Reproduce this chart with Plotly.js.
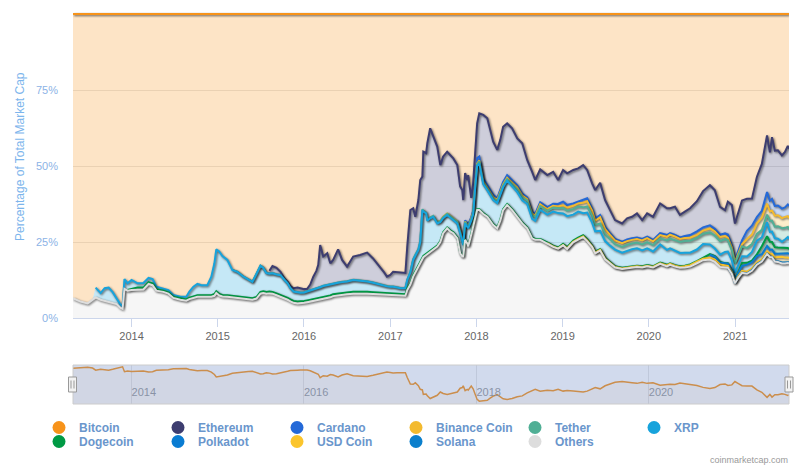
<!DOCTYPE html>
<html>
<head>
<meta charset="utf-8">
<script src="https://cdn.plot.ly/plotly-3.0.1.min.js"></script>
<style>
  html, body { margin: 0; padding: 0; background: #ffffff; }
  #chart { width: 800px; height: 468px; }
  .subplot.xy .scatterlayer .js-line { filter: drop-shadow(1px 1px 1.2px rgba(0,0,0,0.6)); }
</style>
</head>
<body>
<div id="chart"></div>
<script>
const dates = [
 '2013-04-28','2013-05-30','2013-06-29','2013-07-20','2013-08-02','2013-08-23','2013-09-09','2013-09-26','2013-10-13','2013-10-30',
 '2013-11-15','2013-11-24','2013-12-02','2013-12-15','2014-01-01','2014-01-26','2014-02-20','2014-03-14','2014-03-31','2014-04-16',
 '2014-05-16','2014-06-06','2014-06-27','2014-07-27','2014-08-21','2014-09-03','2014-09-20','2014-10-07','2014-10-24','2014-11-18',
 '2014-12-05','2014-12-18','2014-12-26','2015-01-08','2015-01-21','2015-02-11','2015-03-04','2015-03-25','2015-04-20','2015-05-11',
 '2015-05-28','2015-06-14','2015-07-01','2015-07-13','2015-07-26','2015-08-08','2015-08-21','2015-09-07','2015-09-24','2015-10-11',
 '2015-10-24','2015-11-05','2015-11-18','2015-12-05','2015-12-17','2016-01-02','2016-01-15','2016-01-28','2016-02-10','2016-02-23',
 '2016-03-02','2016-03-10','2016-03-23','2016-04-09','2016-04-22','2016-05-04','2016-05-25','2016-06-11','2016-07-02','2016-07-28',
 '2016-08-26','2016-09-25','2016-10-20','2016-11-06','2016-11-19','2016-12-06','2016-12-18','2017-01-01','2017-01-13','2017-01-30',
 '2017-02-12','2017-03-06','2017-03-14','2017-03-27','2017-04-08','2017-04-17','2017-04-30','2017-05-08','2017-05-17','2017-05-21',
 '2017-06-02','2017-06-07','2017-06-19','2017-07-02','2017-07-19','2017-08-01','2017-08-13','2017-08-30','2017-09-12','2017-09-25',
 '2017-10-12','2017-10-24','2017-11-02','2017-11-06','2017-11-14','2017-11-23','2017-11-27','2017-12-10','2017-12-18','2017-12-27',
 '2018-01-04','2018-01-13','2018-01-30','2018-02-16','2018-02-28','2018-03-13','2018-03-30','2018-04-12','2018-04-24','2018-05-11',
 '2018-06-01','2018-06-23','2018-07-14','2018-08-04','2018-08-25','2018-09-07','2018-09-28','2018-10-28','2018-11-22','2018-12-13',
 '2019-01-03','2019-01-20','2019-02-15','2019-03-08','2019-03-29','2019-04-15','2019-05-06','2019-05-19','2019-06-09','2019-06-30',
 '2019-07-21','2019-08-11','2019-09-10','2019-10-01','2019-10-22','2019-11-12','2019-12-04','2019-12-25','2020-01-19','2020-02-18',
 '2020-03-18','2020-03-31','2020-04-21','2020-05-12','2020-06-02','2020-06-24','2020-07-23','2020-08-18','2020-09-16','2020-10-07',
 '2020-10-29','2020-11-19','2020-12-01','2020-12-18','2020-12-31','2021-01-13','2021-01-30','2021-02-20','2021-03-13','2021-04-03',
 '2021-04-24','2021-05-16','2021-05-28','2021-06-06','2021-06-18','2021-07-01','2021-07-18','2021-07-31','2021-08-12','2021-08-17'
];

const _ = null;
const N10 = [_,_,_,_,_,_,_,_,_,_];

const bitcoin = [
 93.5,94.6,95.2,93.8,90.0,91.8,90.2,90.0,91.5,93.5,
 95.6,96.2,87.2,88.6,87.5,88.6,88.5,86.8,87.2,89.7,
 90.2,90.8,92.4,93.0,93.0,91.3,89.7,88.8,89.2,89.2,
 86.4,82.0,77.4,78.2,79.6,80.9,84.2,84.8,86.4,87.5,
 88.1,85.5,82.8,83.5,85.2,84.5,82.9,83.5,84.8,87.0,
 88.0,89.5,90.2,90.0,90.2,90.5,90.4,89.0,86.4,84.5,
 82.5,76.0,79.8,78.7,82.0,80.9,77.4,80.9,83.1,79.8,
 79.3,78.5,80.4,82.0,83.1,85.0,86.4,85.8,84.8,85.0,
 85.1,85.2,76.5,64.5,63.9,66.7,61.2,54.6,53.5,45.3,
 45.8,42.5,37.6,40.3,43.6,49.7,46.9,45.3,46.5,47.5,
 49.7,56.7,57.9,61.2,52.3,54.6,53.0,60.5,55.6,45.0,
 36.0,32.7,33.2,34.3,38.2,42.0,44.7,41.4,37.1,36.0,
 37.6,40.9,42.5,48.0,51.9,54.6,51.1,53.0,51.9,54.6,
 51.3,52.4,51.3,50.8,49.7,51.3,55.7,57.9,55.5,61.2,
 64.5,67.8,68.9,67.2,66.7,65.6,67.8,65.6,66.7,62.3,
 63.9,63.9,63.4,66.1,65.0,63.9,61.5,58.2,56.2,57.9,
 63.4,64.5,61.7,62.8,68.9,65.6,61.2,60.6,60.6,53.5,
 49.1,39.8,45.3,40.3,44.7,44.7,46.4,45.3,43.1,44.0
];

const ethereum = [
 ...N10,...N10,...N10,...N10,_,_,_,_,_,
 0.8,2.3,2.1,1.0,0.4,
 0.5,0.6,1.0,1.4,1.4,1.0,0.8,2.0,4.3,5.8,
 7.5,13.8,9.6,10.4,6.9,7.6,10.9,7.2,4.8,7.6,
 8.3,9.4,7.9,6.7,5.8,4.2,3.1,3.8,4.8,4.9,
 5.0,4.9,10.9,20.3,16.7,12.5,16.1,20.1,10.7,19.4,
 19.5,25.2,29.3,26.1,24.8,18.3,19.8,20.3,19.9,19.7,
 18.3,14.4,16.1,13.9,15.6,14.2,16.3,6.4,9.1,10.1,
 11.4,14.2,21.0,22.0,19.5,17.5,15.9,16.5,18.1,17.0,
 17.0,15.5,16.6,12.3,13.2,11.1,10.8,10.5,10.5,7.9,
 10.4,10.4,11.0,10.9,11.5,9.3,8.2,9.3,10.6,8.8,
 7.6,6.2,6.0,7.0,7.1,7.9,6.2,7.6,7.6,9.8,
 8.8,8.2,9.3,7.4,8.0,8.8,9.9,11.9,13.2,12.6,
 9.1,7.6,10.8,13.2,12.0,12.6,13.1,10.5,8.9,13.2,
 15.4,18.6,15.9,20.2,18.1,18.1,17.5,18.2,19.2,18.7
];

const cardano = [
 ...N10,...N10,...N10,...N10,...N10,...N10,...N10,...N10,...N10,...N10,
 0.3,0.4,0.3,0.3,0.4,0.6,0.6,0.5,0.6,1.2,
 1.8,1.3,0.9,0.9,0.8,0.7,0.6,0.6,0.9,0.9,
 0.8,0.7,0.6,0.6,0.6,0.6,0.7,0.7,0.7,0.8,
 1.2,0.9,0.8,0.6,0.9,1.0,0.8,0.8,0.8,0.8,
 0.6,0.5,0.5,0.5,0.5,0.5,0.5,0.5,0.5,0.6,
 0.6,0.5,0.5,0.5,0.7,0.9,1.2,1.1,1.0,0.9,
 0.8,0.9,1.0,0.8,0.6,0.8,1.3,2.7,2.9,2.0,
 2.2,3.8,3.5,3.8,3.2,3.2,3.1,3.1,3.8,4.0
];

const binanceCoin = [
 ...N10,...N10,...N10,...N10,...N10,...N10,...N10,...N10,...N10,_,_,_,_,
 0.1,0.1,0.1,0.1,0.1,0.1,
 0.1,0.1,0.1,0.1,0.1,0.1,0.1,0.1,0.2,0.2,
 0.3,0.3,0.4,0.3,0.4,0.4,0.4,0.4,0.4,0.4,
 0.5,0.6,0.6,0.5,0.5,0.5,0.6,0.6,0.6,0.6,
 0.9,1.0,1.1,1.0,1.5,1.7,1.6,1.4,2.0,1.7,
 1.3,1.2,1.2,1.2,1.2,1.2,1.3,1.3,1.2,1.1,
 1.2,1.3,1.2,1.0,1.0,1.0,1.0,1.0,1.3,1.3,
 1.3,1.0,0.9,0.8,0.6,0.6,0.7,2.9,3.1,3.5,
 4.0,3.6,3.1,3.3,3.6,3.6,3.3,3.6,3.5,3.6
];

const tether = [
 ...N10,...N10,...N10,_,_,_,_,_,_,
 0.05,0.05,0.05,0.05,
 0.05,0.05,0.05,0.05,0.05,0.1,0.1,0.1,0.1,0.1,
 0.1,0.1,0.1,0.1,0.1,0.1,0.1,0.1,0.1,0.1,
 0.1,0.1,0.1,0.1,0.1,0.1,0.1,0.1,0.1,0.1,
 0.1,0.1,0.1,0.1,0.1,0.1,0.1,0.1,0.1,0.1,
 0.1,0.1,0.1,0.2,0.3,0.3,0.3,0.3,0.3,0.3,
 0.3,0.3,0.3,0.3,0.4,0.4,0.4,0.4,0.5,0.5,
 0.5,0.5,0.5,0.5,0.5,0.5,0.5,0.5,0.5,0.5,
 0.5,0.6,0.5,0.5,0.6,0.6,0.6,0.6,0.5,0.5,
 0.6,0.9,1.0,1.1,1.2,1.2,1.2,1.2,1.3,1.6,
 1.8,1.8,1.8,1.7,1.9,2.0,2.3,2.1,2.4,2.2,
 2.2,1.8,1.9,2.0,1.9,1.9,2.0,2.1,2.1,2.0,
 3.1,3.2,3.4,3.6,3.8,3.9,3.8,3.4,4.0,4.3,
 4.5,4.2,3.7,3.4,3.0,3.0,3.2,2.8,2.6,2.2,
 2.5,2.5,3.6,3.6,3.8,4.1,4.5,3.8,3.3,3.2
];

const xrp = [
 _,_,_,_,3.2,2.2,4.1,4.6,3.5,1.9,
 1.1,0.8,3.2,2.2,2.9,1.4,1.5,1.4,1.4,0.8,
 0.8,0.8,0.6,0.6,0.9,2.0,3.1,3.7,3.3,3.3,
 6.1,10.1,13.8,13.9,12.8,11.6,8.5,8.1,6.8,6.0,
 5.4,7.6,8.6,7.7,6.2,5.9,6.1,6.2,6.5,5.4,
 4.8,3.7,3.1,3.1,2.9,2.8,2.9,2.9,3.1,3.3,
 3.5,3.6,3.7,3.7,3.6,3.6,3.5,3.5,3.6,3.9,
 3.6,3.4,3.1,2.8,2.6,2.4,2.2,2.1,2.1,2.0,
 1.9,2.0,2.8,3.6,5.1,5.1,5.0,6.6,15.6,14.6,
 13.3,10.6,10.7,10.5,7.3,6.2,4.6,4.1,4.2,4.0,
 4.6,6.4,4.7,3.6,5.2,5.3,5.8,4.2,3.7,9.2,
 14.2,15.1,9.5,8.4,8.2,7.9,8.0,8.2,7.2,7.7,
 7.7,7.8,7.3,7.7,6.1,6.0,9.6,9.1,11.2,11.3,
 10.0,10.2,8.5,8.6,7.3,8.8,7.6,6.7,6.0,5.5,
 5.5,5.5,5.0,5.4,5.6,5.7,5.2,5.5,4.9,6.0,
 4.9,4.9,4.8,4.4,4.3,3.9,3.8,4.6,3.1,2.5,
 2.4,3.7,3.8,3.2,2.1,2.4,2.2,2.1,2.9,4.5,
 2.9,4.6,3.2,3.4,2.9,2.9,2.0,2.9,3.6,3.3
];

const dogecoin = [
 ...N10,_,_,_,
 0.2,0.4,0.6,0.6,0.6,0.6,0.5,
 0.4,0.4,0.4,0.4,0.4,0.5,0.5,0.5,0.5,0.5,
 0.5,0.6,0.6,0.5,0.5,0.5,0.5,0.5,0.5,0.5,
 0.5,0.5,0.6,0.6,0.6,0.6,0.6,0.6,0.6,0.6,
 0.6,0.6,0.6,0.6,0.6,0.6,0.6,0.6,0.6,0.6,
 0.6,0.6,0.6,0.6,0.6,0.6,0.6,0.6,0.6,0.6,
 0.6,0.6,0.6,0.6,0.6,0.6,0.6,0.6,0.6,0.5,
 0.5,0.5,0.5,0.4,0.4,0.4,0.4,0.4,0.4,0.4,
 0.4,0.4,0.3,0.3,0.3,0.3,0.3,0.3,0.3,0.3,
 0.3,0.2,0.2,0.2,0.2,0.2,0.2,0.3,0.3,0.3,
 0.3,0.3,0.3,0.3,0.3,0.3,0.3,0.3,0.3,0.3,
 0.3,0.3,0.3,0.3,0.3,0.3,0.3,0.3,0.3,0.3,
 0.4,0.4,0.4,0.4,0.4,0.4,0.3,0.3,0.3,0.3,
 0.3,0.2,0.2,0.2,0.2,0.2,0.2,0.2,0.2,0.2,
 0.2,0.2,0.2,0.2,0.2,0.2,0.2,0.2,0.2,0.2,
 0.2,0.2,0.2,0.2,0.2,0.2,1.0,0.6,0.5,0.6,
 2.6,3.2,2.6,2.5,2.1,2.0,1.9,1.8,1.7,1.6
];

const polkadot = [
 ...N10,...N10,...N10,...N10,...N10,...N10,...N10,...N10,...N10,...N10,
 ...N10,...N10,...N10,...N10,...N10,_,_,_,_,_,_,_,_,
 1.0,0.9,
 0.6,0.6,0.7,0.5,0.6,1.0,1.6,2.3,2.0,2.0,
 1.6,1.7,1.3,1.4,1.3,1.1,1.0,1.2,1.4,1.4
];

const usdCoin = [
 ...N10,...N10,...N10,...N10,...N10,...N10,...N10,...N10,...N10,...N10,
 ...N10,...N10,_,_,_,_,_,_,_,
 0.1,0.1,0.1,
 0.1,0.2,0.2,0.2,0.2,0.2,0.2,0.2,0.2,0.2,
 0.2,0.2,0.2,0.2,0.2,0.2,0.2,0.2,0.2,0.2,
 0.3,0.3,0.3,0.3,0.4,0.5,0.5,0.5,0.6,0.8,
 0.8,0.7,0.6,0.5,0.5,0.5,0.6,0.6,0.6,0.6,
 0.7,0.8,1.0,1.0,1.2,1.4,1.9,1.6,1.4,1.3
];

const solana = [
 ...N10,...N10,...N10,...N10,...N10,...N10,...N10,...N10,...N10,...N10,
 ...N10,...N10,...N10,...N10,...N10,_,_,_,_,_,_,_,_,_,_,_,_,
 0.02,0.03,0.04,0.05,0.1,0.1,0.2,0.2,
 0.1,0.1,0.1,0.1,0.1,0.2,0.3,0.4,0.4,0.4,
 0.5,0.4,0.5,0.6,0.6,0.5,0.5,0.6,1.0,1.1
];

const others = [
 6.5,5.4,4.8,6.2,6.8,6.0,5.7,5.4,5.0,4.6,
 3.3,3.0,9.6,9.0,9.2,9.4,9.4,11.2,10.8,9.0,
 8.6,8.0,6.6,6.0,5.7,6.2,6.7,7.0,7.0,7.0,
 7.0,7.3,8.2,7.4,7.1,7.0,6.8,6.6,6.3,6.0,
 6.0,6.4,8.0,8.2,8.0,8.1,8.0,7.5,7.0,6.5,
 6.0,5.5,5.0,4.8,4.8,5.0,5.2,5.4,5.5,5.7,
 5.8,5.9,6.2,6.5,6.8,7.2,7.5,7.7,7.8,8.0,
 8.1,8.0,7.9,7.8,7.8,7.7,7.6,7.6,7.6,7.5,
 7.4,7.3,9.2,11.0,13.6,15.0,17.0,18.0,19.5,20.0,
 20.7,21.0,21.8,22.5,23.5,25.0,27.9,29.5,28.5,27.9,
 26.2,21.3,20.2,20.2,25.7,24.5,23.5,27.5,30.0,33.5,
 35.5,35.5,34.2,33.3,32.0,30.6,29.5,32.0,35.5,37.2,
 35.5,33.3,31.1,29.5,26.2,25.7,25.7,24.5,23.4,22.8,
 23.9,22.7,24.9,25.8,26.6,25.3,23.3,21.3,22.2,19.3,
 17.8,16.6,16.1,16.3,16.6,16.8,16.6,17.0,16.6,17.8,
 17.0,17.5,16.9,16.5,16.6,16.9,18.0,19.0,19.2,18.4,
 16.8,16.5,16.5,14.5,11.4,13.1,14.8,14.5,15.5,17.5,
 18.5,21.0,20.0,19.9,18.5,18.4,17.9,17.9,18.0,17.8
];

const yTickValues = [0, 25, 50, 75];
const yTickLabels = ['0%', '25%', '50%', '75%'];
const rangeStart = '2013-04-28';
const rangeEnd = '2021-08-17';

// stacking order: bottom first
const stack = [
  {name: 'Others',       y: others,      color: '#dddddd'},
  {name: 'Solana',       y: solana,      color: '#0b7fcc'},
  {name: 'USD Coin',     y: usdCoin,     color: '#fbc52c'},
  {name: 'Polkadot',     y: polkadot,    color: '#0a7cd2'},
  {name: 'Dogecoin',     y: dogecoin,    color: '#009a44'},
  {name: 'XRP',          y: xrp,         color: '#17a3dc'},
  {name: 'Tether',       y: tether,      color: '#50af95'},
  {name: 'Binance Coin', y: binanceCoin, color: '#f3ba2f'},
  {name: 'Cardano',      y: cardano,     color: '#2469d8'},
  {name: 'Ethereum',     y: ethereum,    color: '#3d3d70'},
  {name: 'Bitcoin',      y: bitcoin,     color: '#f7931a'}
];
const legendRow1 = ['Bitcoin', 'Ethereum', 'Cardano', 'Binance Coin', 'Tether', 'XRP'];
const legendRow2 = ['Dogecoin', 'Polkadot', 'USD Coin', 'Solana', 'Others'];

function rgba(hex, a) {
  const n = parseInt(hex.slice(1), 16);
  return 'rgba(' + ((n >> 16) & 255) + ',' + ((n >> 8) & 255) + ',' + (n & 255) + ',' + a + ')';
}

const traces = [];

// stacked fills (Plotly stacks them)
stack.forEach(function (s, k) {
  const xs = [], ys = [];
  s.y.forEach(function (v, i) { if (v !== null) { xs.push(dates[i]); ys.push(v); } });
  const t = {
    type: 'scatter', mode: 'none', name: s.name,
    x: xs, y: ys, xaxis: 'x', yaxis: 'y',
    stackgroup: 'dominance',
    fillcolor: rgba(s.color, 0.25),
    showlegend: false, hoverinfo: 'skip'
  };
  if (k === 0) t.groupnorm = 'percent';
  traces.push(t);
});

// series top lines: each series' line sits on top of its stack, only where the series has data
const totals = dates.map(function (d, i) {
  return stack.reduce(function (acc, s) { return acc + (s.y[i] === null ? 0 : s.y[i]); }, 0);
});
const lineTraces = stack.map(function (s, k) {
  const ys = dates.map(function (d, i) {
    if (s.y[i] === null) return null;
    let c = 0;
    for (let j = 0; j <= k; j++) { if (stack[j].y[i] !== null) c += stack[j].y[i]; }
    return c / totals[i] * 100;
  });
  return {
    type: 'scatter', mode: 'lines', name: s.name + ' line', x: dates, y: ys,
    xaxis: 'x', yaxis: 'y', connectgaps: false,
    line: {color: s.color, width: 2},
    showlegend: false, hoverinfo: 'skip'
  };
});
// draw top series first so lower series' lines sit above (as in the original)
for (let k = lineTraces.length - 1; k >= 0; k--) traces.push(lineTraces[k]);

// navigator
traces.push({
  type: 'scatter', mode: 'lines', x: dates, y: bitcoin,
  xaxis: 'x2', yaxis: 'y2',
  line: {color: '#f7931a', width: 1.5}, fill: 'tozeroy', fillcolor: 'rgba(247,147,26,0.05)',
  showlegend: false, hoverinfo: 'skip'
});

// legend entries
function colorOf(name) { return stack.find(function (s) { return s.name === name; }).color; }
legendRow1.forEach(function (n) {
  traces.push({type: 'scatter', mode: 'markers', name: n, x: [null], y: [null], xaxis: 'x', yaxis: 'y',
    marker: {size: 13, color: colorOf(n)}, legend: 'legend', showlegend: true, hoverinfo: 'skip'});
});
legendRow2.forEach(function (n) {
  traces.push({type: 'scatter', mode: 'markers', name: n, x: [null], y: [null], xaxis: 'x', yaxis: 'y',
    marker: {size: 13, color: colorOf(n)}, legend: 'legend2', showlegend: true, hoverinfo: 'skip'});
});

const PH = 392; // paper height in px
const py = function (px) { return (404 - px) / PH; };
const pxX = function (px) { return (px - 73) / 716; };

const legendFont = {family: 'Liberation Sans, Arial, sans-serif', size: 12, color: '#6a96cc', weight: 'bold'};
const legendBase = {
  orientation: 'h', xanchor: 'left', yanchor: 'top', x: pxX(39),
  font: legendFont, entrywidth: 74, entrywidthmode: 'pixels',
  bgcolor: 'rgba(0,0,0,0)', borderwidth: 0, traceorder: 'normal', itemclick: false, itemdoubleclick: false
};

const layout = {
  width: 800, height: 468,
  margin: {l: 73, r: 11, t: 12, b: 64, pad: 0, autoexpand: false},
  paper_bgcolor: '#ffffff', plot_bgcolor: '#ffffff',
  font: {family: 'Liberation Sans, Arial, sans-serif', color: '#666666'},
  showlegend: true,
  xaxis: {
    type: 'date', range: [rangeStart, rangeEnd], anchor: 'y',
    tick0: '2014-01-01', dtick: 'M12', tickformat: '%Y',
    ticks: 'outside', ticklen: 8, tickwidth: 1, tickcolor: '#ccd6eb',
    showline: true, linecolor: '#ccd6eb', linewidth: 1,
    showgrid: false, zeroline: false,
    tickfont: {size: 11, color: '#666666'}, fixedrange: true
  },
  yaxis: {
    domain: [py(318), 1], range: [0, 100.66], anchor: 'x',
    tickvals: yTickValues, ticktext: yTickLabels,
    gridcolor: '#e6e6e6', gridwidth: 1, zeroline: false, showline: false,
    ticks: '', ticklabelstandoff: 14,
    tickfont: {size: 11, color: '#8cb3e6'}, fixedrange: true
  },
  xaxis2: {
    type: 'date', range: [rangeStart, rangeEnd], anchor: 'y2',
    tick0: '2014-01-01', dtick: 'M24', tickformat: '%Y',
    ticks: '', ticklabelposition: 'inside right',
    showgrid: true, gridcolor: '#e6e6e6', showline: false, zeroline: false,
    tickfont: {size: 11, color: '#999999'}, fixedrange: true
  },
  yaxis2: {
    domain: [0, py(365)], range: [27.5, 99.5], anchor: 'x2',
    showticklabels: false, showgrid: false, zeroline: false, fixedrange: true
  },
  legend: Object.assign({}, legendBase, {y: py(413)}),
  legend2: Object.assign({}, legendBase, {y: py(427)}),
  shapes: [
    {type: 'rect', xref: 'x2 domain', yref: 'y2 domain', x0: 0, x1: 1, y0: 0, y1: 1,
     fillcolor: 'rgba(102,133,194,0.3)', line: {width: 0}, layer: 'above'},
    {type: 'rect', xref: 'x2 domain', yref: 'y2 domain', x0: 0, x1: 1, y0: 0, y1: 1,
     fillcolor: 'rgba(0,0,0,0)', line: {width: 1, color: '#cccccc'}, layer: 'above'},
    // left handle
    {type: 'rect', xref: 'x2 domain', yref: 'y2 domain', xsizemode: 'pixel', ysizemode: 'pixel',
     xanchor: 0, yanchor: 0.5, x0: -4.5, x1: 3.5, y0: -7.5, y1: 7.5,
     fillcolor: '#f2f2f2', line: {width: 1, color: '#999999'}, layer: 'above'},
    {type: 'line', xref: 'x2 domain', yref: 'y2 domain', xsizemode: 'pixel', ysizemode: 'pixel',
     xanchor: 0, yanchor: 0.5, x0: -2, x1: -2, y0: -4, y1: 4, line: {width: 1, color: '#999999'}, layer: 'above'},
    {type: 'line', xref: 'x2 domain', yref: 'y2 domain', xsizemode: 'pixel', ysizemode: 'pixel',
     xanchor: 0, yanchor: 0.5, x0: 1, x1: 1, y0: -4, y1: 4, line: {width: 1, color: '#999999'}, layer: 'above'},
    // right handle
    {type: 'rect', xref: 'x2 domain', yref: 'y2 domain', xsizemode: 'pixel', ysizemode: 'pixel',
     xanchor: 1, yanchor: 0.5, x0: -4, x1: 4, y0: -7.5, y1: 7.5,
     fillcolor: '#f2f2f2', line: {width: 1, color: '#999999'}, layer: 'above'},
    {type: 'line', xref: 'x2 domain', yref: 'y2 domain', xsizemode: 'pixel', ysizemode: 'pixel',
     xanchor: 1, yanchor: 0.5, x0: -1.5, x1: -1.5, y0: -4, y1: 4, line: {width: 1, color: '#999999'}, layer: 'above'},
    {type: 'line', xref: 'x2 domain', yref: 'y2 domain', xsizemode: 'pixel', ysizemode: 'pixel',
     xanchor: 1, yanchor: 0.5, x0: 1.5, x1: 1.5, y0: -4, y1: 4, line: {width: 1, color: '#999999'}, layer: 'above'}
  ],
  annotations: [
    {text: 'Percentage of Total Market Cap', xref: 'paper', yref: 'paper',
     x: pxX(20), y: py(157), xanchor: 'center', yanchor: 'middle', textangle: -90, showarrow: false,
     font: {family: 'Liberation Sans, Arial, sans-serif', size: 12, color: '#7cb5ec'}},
    {text: 'coinmarketcap.com', xref: 'paper', yref: 'paper',
     x: pxX(790), y: py(460), xanchor: 'right', yanchor: 'middle', showarrow: false,
     font: {family: 'Liberation Sans, Arial, sans-serif', size: 9, color: '#999999'}}
  ]
};

Plotly.newPlot('chart', traces, layout, {displayModeBar: false, staticPlot: true});
</script>
</body>
</html>
